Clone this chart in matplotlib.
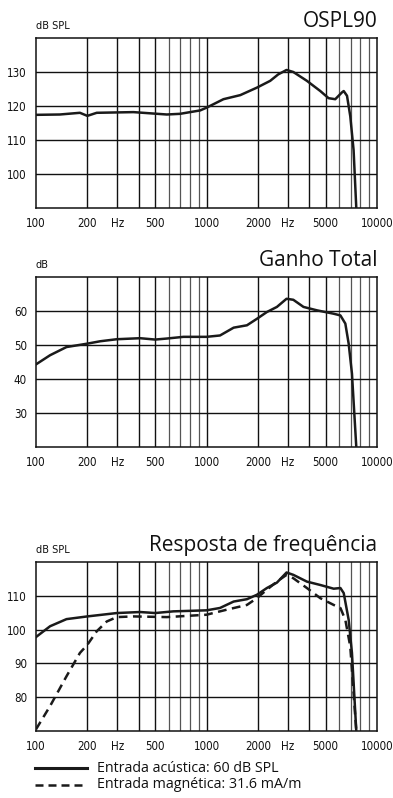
import matplotlib
matplotlib.use("Agg")
import matplotlib.pyplot as plt
from matplotlib import font_manager as fm
import numpy as np

# ---------------- data ----------------
ospl_f = [100, 138, 181, 200, 227, 373, 585, 700, 918, 1000, 1257, 1578, 1975, 2364,
          2634, 2948, 3230, 3880, 4650, 5200, 5690, 6230, 6380, 6670, 6970, 7290, 7560]
ospl_db = [117.4, 117.5, 118.0, 117.1, 118.0, 118.2, 117.5, 117.7, 118.7, 119.5, 122.0,
           123.2, 125.4, 127.4, 129.3, 130.6, 130.0, 127.4, 124.4, 122.3, 122.0, 124.0,
           124.4, 123.0, 117.0, 107.0, 90.0]

gain_f = [100, 121, 151, 200, 238, 298, 408, 500, 585, 733, 1000, 1200, 1443, 1727, 1975,
          2260, 2588, 2948, 3230, 3706, 4440, 5570, 6100, 6520, 6820, 7130, 7560]
gain_db = [44.3, 47.0, 49.4, 50.4, 51.1, 51.7, 52.0, 51.6, 51.9, 52.4, 52.4, 52.8, 55.1,
           55.8, 57.7, 59.7, 61.2, 63.6, 63.3, 61.2, 60.2, 59.2, 58.7, 56.3, 50.4, 41.6, 20.0]

resp_f = [100, 121, 151, 200, 298, 408, 500, 640, 1000, 1200, 1443, 1727, 1975, 2260,
          2588, 2948, 3230, 3880, 4650, 5570, 6100, 6380, 6820, 7130, 7560]
resp_acoustic = [97.8, 101.0, 103.1, 103.9, 104.9, 105.2, 104.9, 105.4, 105.7, 106.4,
                 108.3, 109.0, 110.3, 112.3, 113.9, 116.9, 116.2, 114.2, 113.2, 112.1,
                 112.3, 110.8, 102.9, 93.1, 70.0]

mag_f = [100, 121, 151, 181, 200, 227, 260, 298, 373, 585, 1000, 1316, 1727, 1975, 2260,
         2588, 2948, 3230, 3880, 4650, 5570, 6100, 6520, 6970, 7560]
resp_magnetic = [70.5, 77.4, 86.2, 93.1, 95.5, 99.5, 102.4, 103.7, 103.9, 103.7, 104.4,
                 105.9, 107.3, 109.3, 111.8, 114.2, 116.2, 115.2, 112.3, 109.3, 107.3,
                 106.4, 102.9, 95.0, 70.0]

x_ticks = [100, 200, 300, 500, 1000, 2000, 3000, 5000, 10000]
x_labels = ["100", "200", "Hz", "500", "1000", "2000", "Hz", "5000", "10000"]

titles = ["OSPL90", "Ganho Total", "Resposta de frequência"]
units = ["dB SPL", "dB", "dB SPL"]
ylims = [(90, 140), (20, 70), (70, 120)]
yticks = [[100, 110, 120, 130], [30, 40, 50, 60], [80, 90, 100, 110]]
legend_labels = ["Entrada acústica: 60 dB SPL", "Entrada magnética: 31.6 mA/m"]

# ---------------- fonts ----------------
fonts = fm.fontManager.ttflist
narrow_prop = None
for pref in ["Liberation Sans Narrow", "Arial Narrow"]:
    for f in fonts:
        if f.name == pref and f.weight in (400, "normal", "regular") and f.style == "normal":
            narrow_prop = fm.FontProperties(fname=f.fname)
            break
    if narrow_prop:
        break
if narrow_prop is None:
    for f in fonts:
        if "DejaVuSansCondensed.ttf" in f.fname:
            narrow_prop = fm.FontProperties(fname=f.fname)
            break
if narrow_prop is None:
    tick_size = 7.8
    narrow_prop = fm.FontProperties(family="Liberation Sans")
else:
    tick_size = 8.3
title_font = "Open Sans"

W, H = 393, 798
fig = plt.figure(figsize=(W / 100, H / 100), dpi=100)

boxes = [(36, 38, 377, 208), (36, 277, 377, 447), (36, 562, 377, 731)]
axes = []
for (x0, y0, x1, y1) in boxes:
    ax = fig.add_axes([x0 / W, 1 - y1 / H, (x1 - x0) / W, (y1 - y0) / H])
    axes.append(ax)

major_grid = [200, 300, 400, 500, 1000, 2000, 3000, 4000, 5000]
minor_grid = [600, 700, 800, 900, 6000, 7000, 8000, 9000]

for i, ax in enumerate(axes):
    ax.set_xscale("log")
    ax.set_xlim(100, 10000)
    ax.set_ylim(*ylims[i])
    for g in major_grid:
        ax.axvline(g, color="#111111", lw=1.0, zorder=1)
    for g in minor_grid:
        ax.axvline(g, color="#555555", lw=0.9, zorder=1)
    for y in yticks[i]:
        ax.axhline(y, color="#111111", lw=1.0, zorder=1)
    ax.set_xticks(x_ticks)
    ax.set_xticklabels(x_labels)
    ax.xaxis.set_minor_locator(matplotlib.ticker.NullLocator())
    ax.set_yticks(yticks[i])
    ax.set_yticklabels([str(v) for v in yticks[i]])
    ax.tick_params(axis="x", length=0, pad=6.5, colors="#111111")
    ax.tick_params(axis="y", length=0, pad=6.5, colors="#111111")
    for lab in ax.get_xticklabels() + ax.get_yticklabels():
        lab.set_fontproperties(narrow_prop)
        lab.set_fontsize(tick_size)
    for s in ax.spines.values():
        s.set_linewidth(1.1)
        s.set_color("#111111")
    t = ax.text(0.0, 1.04, units[i], transform=ax.transAxes, ha="left", va="bottom",
                color="#111111")
    t.set_fontproperties(narrow_prop)
    t.set_fontsize(tick_size - 0.5)
    ax.text(1.0, 1.035, titles[i], transform=ax.transAxes, ha="right", va="bottom",
            fontsize=15, family=title_font, color="#111111")

lw = 1.8
axes[0].plot(ospl_f, ospl_db, color="#1a1a1a", lw=lw, solid_joinstyle="round",
             solid_capstyle="round", zorder=3, clip_on=True)
axes[1].plot(gain_f, gain_db, color="#1a1a1a", lw=lw, solid_joinstyle="round",
             solid_capstyle="round", zorder=3)
l1, = axes[2].plot(resp_f, resp_acoustic, color="#1a1a1a", lw=lw, solid_joinstyle="round",
                   zorder=3, label=legend_labels[0])
l2, = axes[2].plot(mag_f, resp_magnetic, color="#1a1a1a", lw=lw, ls=(0, (3.5, 2.2)),
                   zorder=3, label=legend_labels[1])

# legend below the last chart
for k, yy in enumerate([768, 785]):
    fig.add_artist(matplotlib.lines.Line2D([35 / W, 87 / W], [1 - yy / H, 1 - yy / H],
                   color="#1a1a1a", lw=2.2 if k == 0 else 1.8,
                   ls="-" if k == 0 else (0, (3.2, 2.0))))
    fig.text(97 / W, 1 - yy / H, legend_labels[k], ha="left", va="center",
             fontsize=10.3, family=title_font, color="#111111")

fig.savefig("out.png", dpi=100)
